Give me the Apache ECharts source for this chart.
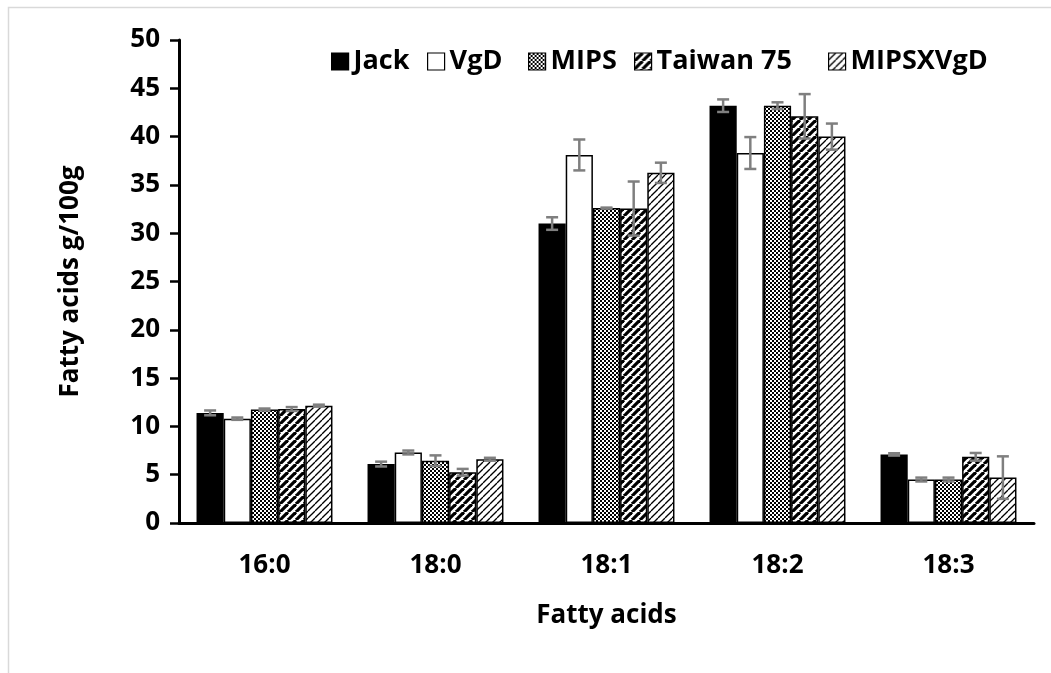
<!DOCTYPE html>
<html>
<head>
<meta charset="utf-8">
<script src="https://cdn.jsdelivr.net/npm/echarts@6/dist/echarts.min.js"></script>
<style>html,body{margin:0;padding:0;background:#fff}#c{width:1051px;height:673px}</style>
</head>
<body>
<div id="c"></div>
<script>
const categories = ['16:0', '18:0', '18:1', '18:2', '18:3'];
const seriesNames = ['Jack', 'VgD', 'MIPS', 'Taiwan 75', 'MIPSXVgD'];
const jack = [11.4, 6.1, 31.0, 43.2, 7.1];
const jackErr = [0.25, 0.25, 0.65, 0.65, 0.12];
const vgd = [10.8, 7.3, 38.1, 38.3, 4.5];
const vgdErr = [0.12, 0.2, 1.6, 1.65, 0.2];
const mips = [11.75, 6.45, 32.6, 43.2, 4.5];
const mipsErr = [0.1, 0.55, 0.05, 0.35, 0.2];
const taiwan = [11.8, 5.25, 32.55, 42.1, 6.85];
const taiwanErr = [0.2, 0.35, 2.8, 2.3, 0.4];
const mxv = [12.15, 6.6, 36.25, 40.0, 4.7];
const mxvErr = [0.1, 0.15, 1.05, 1.35, 2.2];
const yTicks = [0, 5, 10, 15, 20, 25, 30, 35, 40, 45, 50];

const values = [jack, vgd, mips, taiwan, mxv];
const errors = [jackErr, vgdErr, mipsErr, taiwanErr, mxvErr];

function checker() {
  const c = document.createElement('canvas'); c.width = 4; c.height = 4;
  const g = c.getContext('2d');
  g.fillStyle = '#fff'; g.fillRect(0, 0, 4, 4);
  g.fillStyle = '#000';
  g.fillRect(0, 0, 2, 2); g.fillRect(2, 2, 2, 2);
  return c;
}
function diag(lw, period) {
  const c = document.createElement('canvas'); c.width = period; c.height = period;
  const g = c.getContext('2d');
  g.fillStyle = '#fff'; g.fillRect(0, 0, period, period);
  g.strokeStyle = '#000'; g.lineWidth = lw;
  for (let k = -1; k <= 1; k++) {
    g.beginPath();
    g.moveTo(k * period, period);
    g.lineTo(k * period + period, 0);
    g.stroke();
  }
  return c;
}
const fills = [
  '#000000',
  '#ffffff',
  { image: checker(), repeat: 'repeat' },
  { image: diag(3.2, 8), repeat: 'repeat' },
  { image: diag(1.3, 7), repeat: 'repeat' }
];

const GAP = 0.205;
const font = '"Open Sans", sans-serif';
const legendLefts = [326, 422, 523, 629, 823];

const series = [];
seriesNames.forEach((name, i) => {
  series.push({
    name: name,
    type: 'bar',
    data: values[i],
    barGap: '0%',
    barCategoryGap: (GAP * 100) + '%',
    itemStyle: { color: fills[i], borderColor: '#000', borderWidth: 1.5 },
    z: 2
  });
});
seriesNames.forEach((name, i) => {
  series.push({
    type: 'custom',
    name: name + ' err',
    z: 5,
    silent: true,
    data: categories.map((c, k) => [k, values[i][k], errors[i][k]]),
    encode: { x: 0, y: 1 },
    renderItem: function (params, api) {
      const cat = api.value(0), v = api.value(1), e = api.value(2);
      const band = api.size([1, 0])[0];
      const bw = band * (1 - GAP) / 5;
      const cc = api.coord([cat, v]);
      const x = cc[0] - 2.5 * bw + (i + 0.5) * bw;
      const yt = api.coord([cat, v + e])[1];
      const yb = api.coord([cat, v - e])[1];
      const st = { stroke: '#7f7f7f', lineWidth: 2.5 };
      const hw = 6;
      return {
        type: 'group',
        children: [
          { type: 'line', shape: { x1: x, y1: yt, x2: x, y2: yb }, style: st },
          { type: 'line', shape: { x1: x - hw, y1: yt, x2: x + hw, y2: yt }, style: st },
          { type: 'line', shape: { x1: x - hw, y1: yb, x2: x + hw, y2: yb }, style: st }
        ]
      };
    }
  });
});

const legends = seriesNames.map((name, i) => ({
  data: [name],
  left: legendLefts[i],
  top: 43,
  icon: 'rect',
  itemWidth: 17,
  itemHeight: 17,
  itemGap: 0,
  textStyle: { fontFamily: font, fontSize: 27, fontWeight: 'bold', color: '#000' },
  itemStyle: { borderColor: '#000', borderWidth: 1.2 }
}));

const chart = echarts.init(document.getElementById('c'), null, { renderer: 'canvas' });
chart.setOption({
  backgroundColor: '#ffffff',
  animation: false,
  textStyle: { fontFamily: font },
  graphic: [{
    type: 'rect',
    shape: { x: 8.5, y: 7.5, width: 1100, height: 700 },
    style: { fill: 'none', stroke: '#d9d9d9', lineWidth: 1.5 },
    silent: true
  }],
  legend: legends,
  grid: { left: 179, right: 17, top: 40, bottom: 150, containLabel: false },
  xAxis: {
    type: 'category',
    data: categories,
    name: 'Fatty acids',
    nameLocation: 'middle',
    nameGap: 80,
    nameTextStyle: { fontFamily: font, fontSize: 26, fontWeight: 'bold', color: '#000' },
    axisLine: { lineStyle: { color: '#000', width: 3 } },
    axisTick: { show: false },
    axisLabel: { fontFamily: font, fontSize: 26, fontWeight: 'bold', color: '#000', margin: 30 }
  },
  yAxis: {
    type: 'value',
    min: yTicks[0],
    max: yTicks[yTicks.length - 1],
    interval: 5,
    name: 'Fatty acids g/100g',
    nameLocation: 'middle',
    nameGap: 95,
    nameTextStyle: { fontFamily: font, fontSize: 26, fontWeight: 'bold', color: '#000' },
    axisLine: { show: true, lineStyle: { color: '#000', width: 3 } },
    axisTick: { show: true, length: 9, lineStyle: { color: '#000', width: 2.5 } },
    axisLabel: { fontFamily: font, fontSize: 26, fontWeight: 'bold', color: '#000', margin: 19 },
    splitLine: { show: false }
  },
  series: series
});
</script>
</body>
</html>
